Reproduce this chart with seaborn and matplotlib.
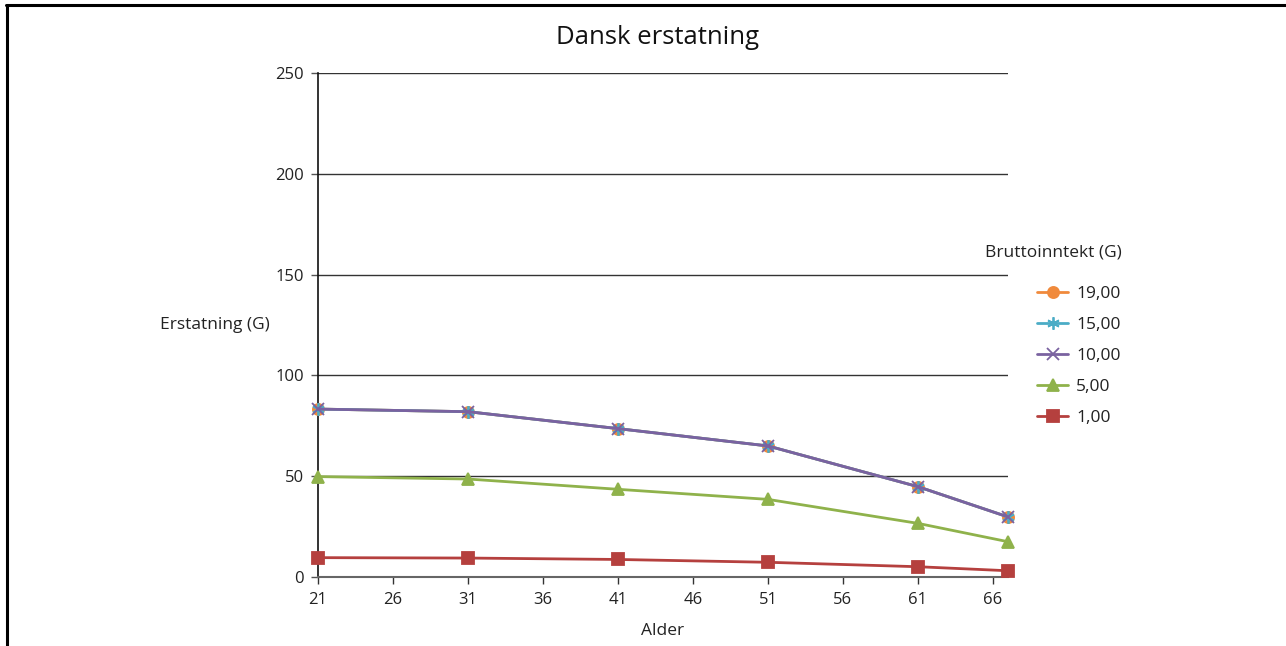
import numpy as np
import pandas as pd
import matplotlib
matplotlib.use("Agg")
import matplotlib.pyplot as plt
from matplotlib.lines import Line2D
import seaborn as sns

# Age points and compensation (in G) per gross-income level
alder = [21, 31, 41, 51, 61, 67]
inntekt_19 = [83.3, 82.0, 73.6, 65.0, 44.8, 29.8]
inntekt_15 = [83.3, 82.0, 73.6, 65.0, 44.8, 29.8]
inntekt_10 = [83.3, 82.0, 73.6, 65.0, 44.8, 29.8]
inntekt_5 = [49.8, 48.6, 43.5, 38.5, 26.6, 17.5]
inntekt_1 = [9.6, 9.4, 8.7, 7.3, 5.1, 3.1]

serienavn = ["19,00", "15,00", "10,00", "5,00", "1,00"]
x_ticks = [21, 26, 31, 36, 41, 46, 51, 56, 61, 66]
y_ticks = [0, 50, 100, 150, 200, 250]

df = pd.DataFrame({
    "Alder": alder * 5,
    "Erstatning": inntekt_19 + inntekt_15 + inntekt_10 + inntekt_5 + inntekt_1,
    "Bruttoinntekt": np.repeat(serienavn, len(alder)),
})

sns.set_theme(style="white")
plt.rcParams["font.family"] = ["Open Sans", "DejaVu Sans"]

farger = {"19,00": "#F08A3C", "15,00": "#4BACC6", "10,00": "#7A62A0",
          "5,00": "#8FB24B", "1,00": "#B5403E"}
markorer = {"19,00": "o", "15,00": (6, 2, 0), "10,00": "x",
            "5,00": "^", "1,00": "s"}
storrelse = {"19,00": 8, "15,00": 9, "10,00": 8, "5,00": 9, "1,00": 8}

fig = plt.figure(figsize=(12.86, 6.46), dpi=100)
ax = fig.add_axes([318 / 1286, 1 - 577 / 646, 690 / 1286, 504 / 646])

for navn in serienavn:
    sub = df[df["Bruttoinntekt"] == navn]
    sns.lineplot(data=sub, x="Alder", y="Erstatning", ax=ax,
                 color=farger[navn], marker=markorer[navn],
                 markersize=storrelse[navn], linewidth=2.0,
                 markeredgecolor=farger[navn], markeredgewidth=1.3,
                 label=navn, legend=False, zorder=3, clip_on=False)

ax.set_xlim(21, 67)
ax.set_ylim(0, 250)
ax.set_xticks(x_ticks)
ax.set_yticks(y_ticks)
ax.tick_params(axis="both", labelsize=12, colors="#222222",
               length=5, width=1.0, direction="out", bottom=True, left=True)
ax.tick_params(axis="x", color="#333333", pad=6)
ax.tick_params(axis="y", color="#555555", pad=5)
ax.grid(False)
for y in y_ticks[1:]:
    ax.axhline(y, color="#333333", linewidth=1.0, zorder=1)

for s in ["top", "right"]:
    ax.spines[s].set_visible(False)
ax.spines["left"].set_color("#111111")
ax.spines["left"].set_linewidth(1.2)
ax.spines["bottom"].set_color("#666666")
ax.spines["bottom"].set_linewidth(1.5)

ax.set_xlabel("")
ax.set_ylabel("")
fig.text(663 / 1286, 1 - 631 / 646, "Alder", ha="center", va="center",
         fontsize=12.5, color="#222222")
fig.text(215 / 1286, 1 - 325 / 646, "Erstatning (G)", ha="center", va="center",
         fontsize=12.5, color="#222222")
fig.text(658 / 1286, 1 - 38 / 646, "Dansk erstatning", ha="center", va="center",
         fontsize=18.5, color="#111111")

# Legend
fig.text(1053 / 1286, 1 - 252 / 646, "Bruttoinntekt (G)", ha="center",
         va="center", fontsize=12.5, color="#222222")
handles, labels = ax.get_legend_handles_labels()
fig.legend(handles, labels, loc="upper left",
           bbox_to_anchor=(1037 / 1286, 1 - 286 / 646), frameon=False,
           fontsize=12.5, handlelength=1.8, handletextpad=0.45,
           labelspacing=0.86, borderpad=0, borderaxespad=0,
           labelcolor="#222222")

# Outer frame lines (left and top)
fig.add_artist(Line2D([7 / 1286, 7 / 1286], [0, 1 - 4.5 / 646],
                      transform=fig.transFigure, color="black", linewidth=2.2))
fig.add_artist(Line2D([6 / 1286, 1], [1 - 4.5 / 646, 1 - 4.5 / 646],
                      transform=fig.transFigure, color="black", linewidth=2.2))

fig.savefig("out.png", dpi=100)
